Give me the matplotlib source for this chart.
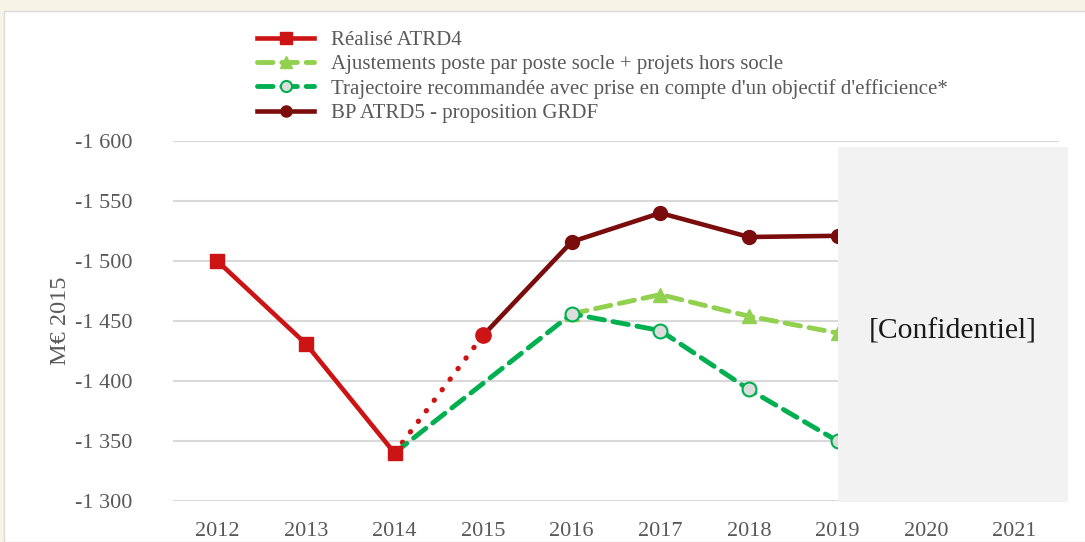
import matplotlib
matplotlib.use("Agg")
import matplotlib.pyplot as plt
from matplotlib.patches import Rectangle

plt.rcParams['font.family'] = ['Liberation Serif', 'DejaVu Serif']

# ---- data ----
years = [2012, 2013, 2014, 2015, 2016, 2017, 2018, 2019, 2020, 2021]
year_labels = [str(y) for y in years]

realise_x = [2012, 2013, 2014]
realise_y = [-1500, -1431, -1340]

estime_x = [2014, 2015]
estime_y = [-1340, -1438]

bp_x = [2015, 2016, 2017, 2018, 2019]
bp_y = [-1438, -1516, -1540, -1520, -1521]

ajust_x = [2016, 2017, 2018, 2019]
ajust_y = [-1456, -1472, -1454, -1440]

traj_x = [2014, 2016, 2017, 2018, 2019]
traj_y = [-1340, -1456, -1442, -1393, -1350]

yticks = [-1600, -1550, -1500, -1450, -1400, -1350, -1300]
ytick_labels = ['-1 600', '-1 550', '-1 500', '-1 450', '-1 400', '-1 350', '-1 300']

# ---- colours ----
red = '#CC1414'
dred = '#7A0C0C'
lgreen = '#92D050'
dgreen = '#00B050'
txt = '#595959'

fig = plt.figure(figsize=(10.85, 5.42), dpi=100)
fig.patch.set_facecolor('#F6F4E6')
fig.patches.append(Rectangle((4 / 1085, 0), 1, 1 - 11 / 542, transform=fig.transFigure,
                             facecolor='white', edgecolor='#D9D9D9', lw=1, zorder=-10))

ax = fig.add_axes([173 / 1085, 41 / 542, 886 / 1085, 360 / 542])
ax.set_facecolor('none')

l1, = ax.plot(realise_x, realise_y, '-', color=red, lw=3.3, marker='s', ms=10,
              zorder=4, label="Réalisé ATRD4")
ax.plot(estime_x, estime_y, color=red, lw=3.8, linestyle=(0, (0.05, 2.45)),
        dash_capstyle='round', zorder=3)
l4, = ax.plot(bp_x, bp_y, '-', color=dred, lw=3.3, marker='o', ms=10,
              markevery=[1, 2, 3, 4], zorder=4, label="BP ATRD5 - proposition GRDF")
ax.plot(bp_x[:1], bp_y[:1], 'o', color=red, ms=11, zorder=5)
l2, = ax.plot(ajust_x, ajust_y, color=lgreen, lw=3.5, dashes=(3.2, 1.8), marker='^', ms=10,
              dash_capstyle='round', zorder=2,
              label="Ajustements poste par poste socle + projets hors socle")
l3, = ax.plot(traj_x, traj_y, color=dgreen, lw=3.5, dashes=(3.2, 1.8), marker='o', ms=10,
              mfc='#DDDDDD', mec=dgreen, mew=1.5, markevery=[1, 2, 3, 4],
              dash_capstyle='round', zorder=3,
              label="Trajectoire recommandée avec prise en compte d'un objectif d'efficience*")

ax.set_xlim(2011.5, 2021.5)
ax.set_ylim(-1300, -1600)
ax.set_xticks(years)
ax.set_xticklabels(year_labels)
ax.set_yticks(yticks)
ax.set_yticklabels(ytick_labels)
ax.tick_params(length=0, labelsize=16, colors=txt, pad=15)
ax.tick_params(axis='y', pad=29)
ax.grid(axis='y', color='#D9D9D9', lw=1.5)
ax.set_axisbelow(True)
for s in ax.spines.values():
    s.set_visible(False)
ax.set_ylabel("M€ 2015", fontsize=17.5, color=txt, labelpad=3)

# confidential box
ax.add_patch(Rectangle((2019.0, -1595), 2.6, 296, facecolor='#F2F2F2',
                       edgecolor='none', zorder=10, clip_on=False))
ax.text(2020.3, -1441, "[Confidentiel]", fontsize=21.3, color='#1a1a1a',
        ha='center', va='center', zorder=11)

fig.legend(handles=[l1, l2, l3, l4], loc='upper left', bbox_to_anchor=(247 / 1085, 1 - 20 / 542),
           frameon=False, fontsize=15, labelcolor=txt, handlelength=2.7, handletextpad=0.85,
           labelspacing=0.22, borderpad=0, markerscale=0.8)

fig.savefig('out.png', dpi=100, facecolor=fig.get_facecolor())
